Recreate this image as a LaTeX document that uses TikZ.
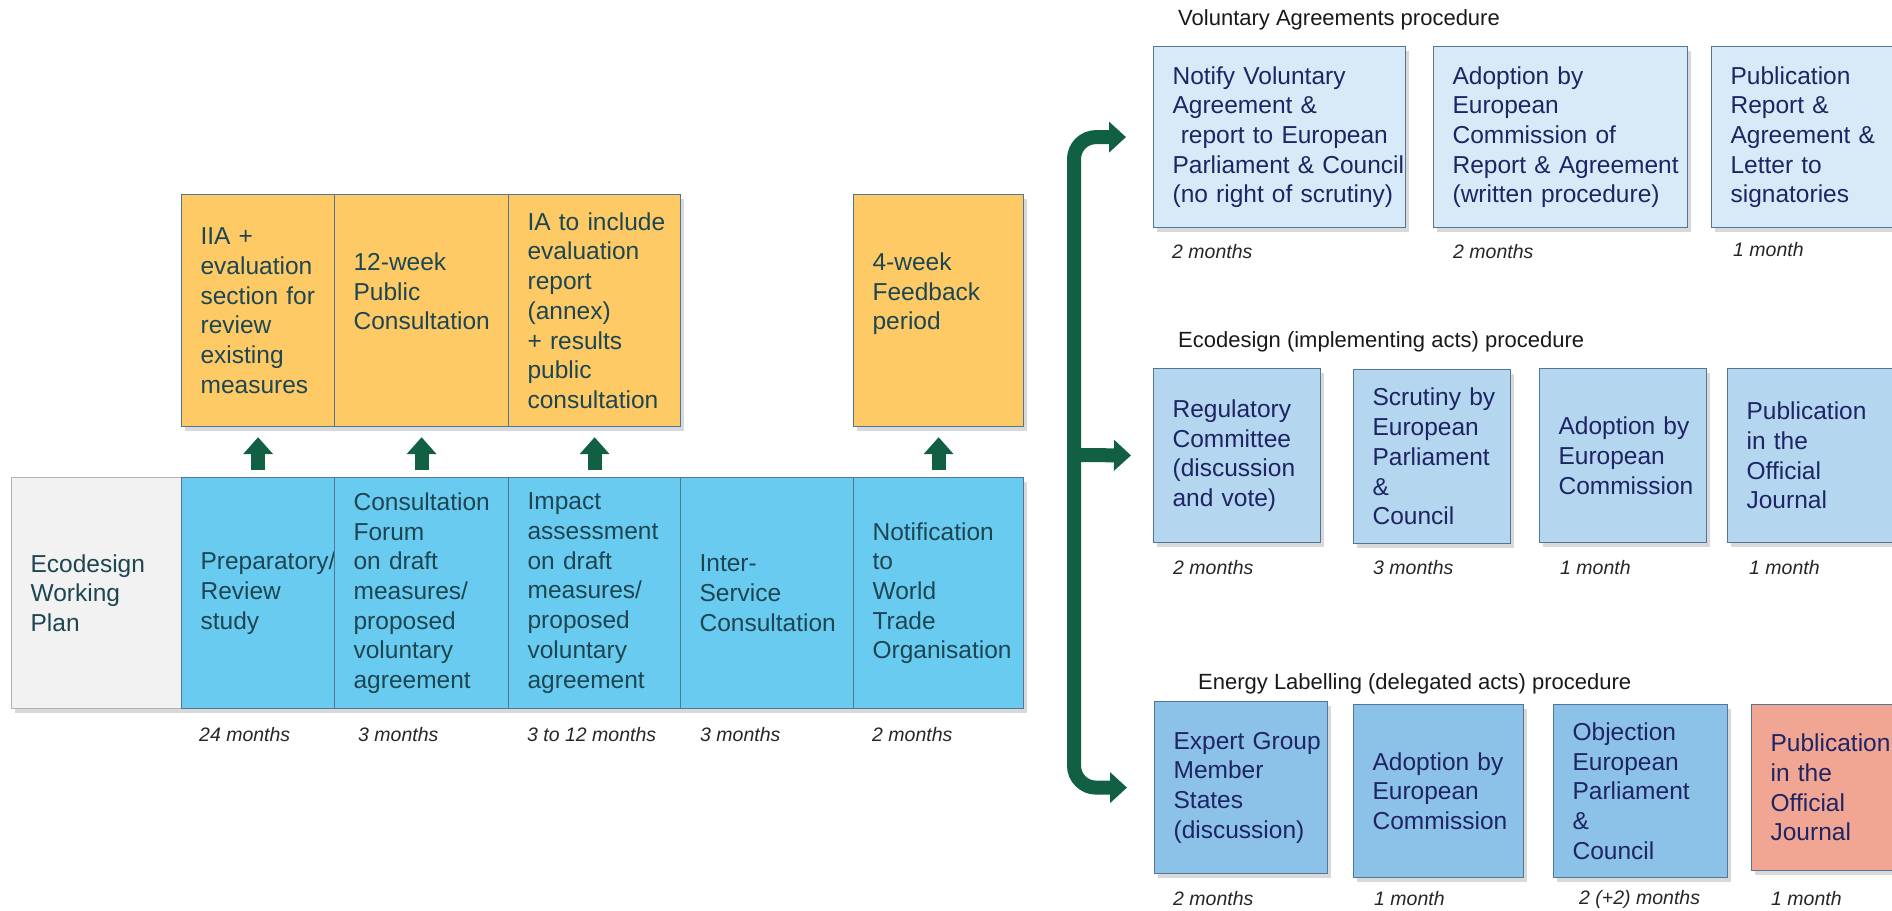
\documentclass[tikz,border=0pt]{standalone}
\usepackage{fontspec}
\setmainfont{Liberation Sans}
\usetikzlibrary{arrows.meta,positioning,shadows}

\definecolor{orangebox}{RGB}{253,202,102}
\definecolor{bluebox}{RGB}{105,203,240}
\definecolor{greybox}{RGB}{242,242,242}
\definecolor{vabox}{RGB}{216,234,248}
\definecolor{edbox}{RGB}{180,214,239}
\definecolor{elbox}{RGB}{141,194,232}
\definecolor{pubbox}{RGB}{241,166,148}
\definecolor{arrowgreen}{RGB}{17,96,68}
\definecolor{leftink}{RGB}{30,70,82}
\definecolor{rightink}{RGB}{30,36,100}
\definecolor{boxline}{RGB}{82,118,150}

\tikzset{
  stepbox/.style 2 args={rectangle, draw=boxline, line width=1.2pt, anchor=north west,
    inner xsep=0pt, inner ysep=0pt, text width=#1pt, minimum height=#2pt, align=left,
    font=\fontsize{24.5pt}{29.7pt}\selectfont,
    execute at begin node={\leftskip=19pt\rightskip=-14pt plus 1fil\hyphenpenalty=10000},
    drop shadow={shadow xshift=3pt, shadow yshift=-4pt, opacity=.3}},
  dur/.style={anchor=west, inner sep=0pt, text=black!85, font=\fontsize{19.5pt}{23pt}\selectfont\itshape},
  proctitle/.style={anchor=west, inner sep=0pt, text=black!90, font=\fontsize{22pt}{26pt}\selectfont},
  uparrow/.style={draw=arrowgreen, line width=14pt, -{Triangle[width=29pt,length=17pt]},
    shorten <=7pt, shorten >=10pt},
  forkarrow/.style={draw=arrowgreen, line width=14pt, rounded corners=22pt,
    -{Triangle[width=30pt,length=17pt]}, shorten >=27pt}
}

\begin{document}
\begin{tikzpicture}[x=1pt, y=-1pt]
        \useasboundingbox (0,0) rectangle (1892,910);
        \clip (0,0) rectangle (1892,910);
        % untere Reihe - Ablauf
        \node[stepbox={170}{231}, fill=greybox, draw=gray!60, text=leftink] (plan) at (11,477) {Ecodesign\\Working\\Plan};
        \node[stepbox={153}{231}, fill=bluebox, text=leftink] (prep) at (181,477) {Preparatory/\\Review\\study};
        \node[stepbox={174}{231}, fill=bluebox, text=leftink] (forum) at (334,477) {Consultation\\Forum\\on draft\\measures/\\proposed\\voluntary\\agreement};
        \node[stepbox={172}{231}, fill=bluebox, text=leftink] (impact) at (508,477) {Impact\\assessment\\on draft\\measures/\\proposed\\voluntary\\agreement};
        \node[stepbox={173}{231}, fill=bluebox, text=leftink] (isc) at (680,477) {Inter-\\Service\\Consultation};
        \node[stepbox={170}{231}, fill=bluebox, text=leftink] (wto) at (853,477) {Notification\\to\\World\\Trade\\Organisation};
        % obere Reihe - orange
        \node[stepbox={153}{232}, fill=orangebox, text=leftink] (iia) at (181,194) {IIA +\\evaluation\\section for\\review\\existing\\measures};
        \node[stepbox={174}{232}, fill=orangebox, text=leftink] (pubcons) at (334,194) {12-week\\Public\\Consultation\\\strut};
        \node[stepbox={172}{232}, fill=orangebox, text=leftink] (iareport) at (508,194) {IA to include\\evaluation\\report\\(annex)\\+ results\\public\\consultation};
        \node[stepbox={170}{232}, fill=orangebox, text=leftink] (feedback) at (853,194) {4-week\\Feedback\\period\\\strut};
        % Pfeile nach oben
        \draw[uparrow] (prep.north) -- (iia.south);
        \draw[uparrow] (forum.north) -- (pubcons.south);
        \draw[uparrow] (impact.north) -- (iareport.south);
        \draw[uparrow] (wto.north) -- (feedback.south);
        % Dauer links
        \node[dur] (dprep) at (199,735) {24 months};
        \node[dur] (dforum) at (358,735) {3 months};
        \node[dur] (dimpact) at (527,735) {3 to 12 months};
        \node[dur] (disc) at (700,735) {3 months};
        \node[dur] (dwto) at (872,735) {2 months};
        % Voluntary Agreements
        \node[proctitle] (tva) at (1178,20) {Voluntary Agreements procedure};
        \node[stepbox={252}{181}, fill=vabox, text=rightink] (va1) at (1153,46) {Notify Voluntary\\Agreement \&\\\ report to European\\Parliament \& Council\\(no right of scrutiny)};
        \node[stepbox={254}{181}, fill=vabox, text=rightink] (va2) at (1433,46) {Adoption by\\European\\Commission of\\Report \& Agreement\\(written procedure)};
        \node[stepbox={254}{181}, fill=vabox, text=rightink] (va3) at (1711,46) {Publication\\Report \&\\Agreement \&\\Letter to\\signatories};
        \node[dur] (dva1) at (1172,252) {2 months};
        \node[dur] (dva2) at (1453,252) {2 months};
        \node[dur] (dva3) at (1733,250) {1 month};
        % Ecodesign
        \node[proctitle] (ted) at (1178,342) {Ecodesign (implementing acts) procedure};
        \node[stepbox={167}{174}, fill=edbox, text=rightink] (ed1) at (1153,368) {Regulatory\\Committee\\(discussion\\and vote)};
        \node[stepbox={157}{174}, fill=edbox, text=rightink] (ed2) at (1353,369) {Scrutiny by\\European\\Parliament\\\&\\Council};
        \node[stepbox={167}{174}, fill=edbox, text=rightink] (ed3) at (1539,368) {Adoption by\\European\\Commission};
        \node[stepbox={170}{174}, fill=edbox, text=rightink] (ed4) at (1727,368) {Publication\\in the\\Official\\Journal};
        \node[dur] (ded1) at (1173,568) {2 months};
        \node[dur] (ded2) at (1373,568) {3 months};
        \node[dur] (ded3) at (1560,568) {1 month};
        \node[dur] (ded4) at (1749,568) {1 month};
        % Energy Labelling
        \node[proctitle] (tel) at (1198,684) {Energy Labelling (delegated acts) procedure};
        \node[stepbox={173}{172}, fill=elbox, text=rightink] (el1) at (1154,701) {Expert Group\\Member\\States\\(discussion)};
        \node[stepbox={170}{173}, fill=elbox, text=rightink] (el2) at (1353,704) {Adoption by\\European\\Commission};
        \node[stepbox={174}{173}, fill=elbox, text=rightink] (el3) at (1553,704) {Objection\\European\\Parliament\\\&\\Council};
        \node[stepbox={174}{166}, fill=pubbox, text=rightink] (el4) at (1751,704) {Publication\\in the\\Official\\Journal};
        \node[dur] (del1) at (1173,899) {2 months};
        \node[dur] (del2) at (1374,899) {1 month};
        \node[dur] (del3) at (1579,899) {2 (+2) months};
        \node[dur] (del4) at (1771,899) {1 month};
        % Gabelung
        \coordinate (fork) at (1074,455);
        \draw[forkarrow] (fork) |- (va1.west);
        \draw[forkarrow, shorten >=22pt] (fork) -- (ed1.west);
        \draw[forkarrow] (fork) |- (el1.west);
    \end{tikzpicture}
\end{document}
